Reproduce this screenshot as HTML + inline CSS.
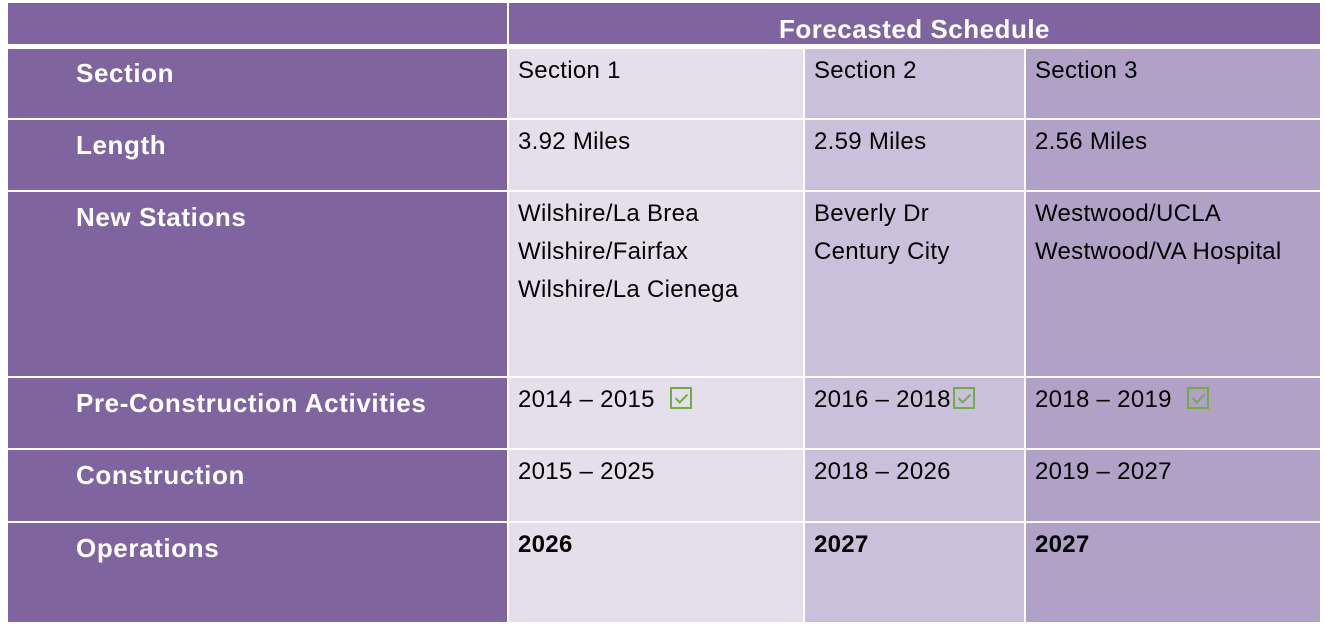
<!DOCTYPE html>
<html><head><meta charset="utf-8"><style>
body{margin:0;width:1325px;height:630px;background:#fff;position:relative;overflow:hidden;font-family:"Liberation Sans",sans-serif}
.c{position:absolute;box-sizing:border-box}
.p{background:#7f64a0}
.a{background:#e5dfec}.b{background:#cbc0dc}.d{background:#b2a1c7}
.l{color:#fff;font-weight:bold;font-size:26px;letter-spacing:0.6px;padding-left:68px;padding-top:10px}
.t{color:#000;font-size:24px;letter-spacing:0.3px;padding-left:9px;line-height:38px;padding-top:3px}
.bo{font-weight:bold}
.ck{display:inline-block;width:22px;height:22px;border:2px solid #70ad47;box-sizing:border-box;vertical-align:-2px;position:relative;margin-left:8px}
.ck:after{content:"";position:absolute;left:6px;top:2px;width:5px;height:10px;border-right:2px solid #70ad47;border-bottom:2px solid #70ad47;transform:rotate(45deg)}
</style></head><body>
<div class="c p" style="left:8px;top:3px;width:499px;height:41px"></div>
<div class="c p" style="left:509px;top:3px;width:811px;height:41px;color:#fff;font-weight:bold;font-size:26px;letter-spacing:0.5px;text-align:center;line-height:52px">Forecasted Schedule</div>

<div class="c p l" style="left:8px;top:49px;width:499px;height:69px;padding-top:9px">Section</div>
<div class="c a t" style="left:509px;top:49px;width:294px;height:69px">Section 1</div>
<div class="c b t" style="left:805px;top:49px;width:219px;height:69px">Section 2</div>
<div class="c d t" style="left:1026px;top:49px;width:294px;height:69px">Section 3</div>

<div class="c p l" style="left:8px;top:120px;width:499px;height:70px">Length</div>
<div class="c a t" style="left:509px;top:120px;width:294px;height:70px">3.92 Miles</div>
<div class="c b t" style="left:805px;top:120px;width:219px;height:70px">2.59 Miles</div>
<div class="c d t" style="left:1026px;top:120px;width:294px;height:70px">2.56 Miles</div>

<div class="c p l" style="left:8px;top:192px;width:499px;height:184px">New Stations</div>
<div class="c a t" style="left:509px;top:192px;width:294px;height:184px">Wilshire/La Brea<br>Wilshire/Fairfax<br>Wilshire/La Cienega</div>
<div class="c b t" style="left:805px;top:192px;width:219px;height:184px">Beverly Dr<br>Century City</div>
<div class="c d t" style="left:1026px;top:192px;width:294px;height:184px">Westwood/UCLA<br>Westwood/VA Hospital</div>

<div class="c p l" style="left:8px;top:378px;width:499px;height:70px">Pre-Construction Activities</div>
<div class="c a t" style="left:509px;top:378px;width:294px;height:70px">2014 – 2015 <span class="ck" style="margin-left:8px"></span></div>
<div class="c b t" style="left:805px;top:378px;width:219px;height:70px">2016 – 2018<span class="ck" style="margin-left:2px"></span></div>
<div class="c d t" style="left:1026px;top:378px;width:294px;height:70px">2018 – 2019 <span class="ck" style="margin-left:8px"></span></div>

<div class="c p l" style="left:8px;top:450px;width:499px;height:71px">Construction</div>
<div class="c a t" style="left:509px;top:450px;width:294px;height:71px">2015 – 2025</div>
<div class="c b t" style="left:805px;top:450px;width:219px;height:71px">2018 – 2026</div>
<div class="c d t" style="left:1026px;top:450px;width:294px;height:71px">2019 – 2027</div>

<div class="c p l" style="left:8px;top:523px;width:499px;height:99px">Operations</div>
<div class="c a t bo" style="left:509px;top:523px;width:294px;height:99px">2026</div>
<div class="c b t bo" style="left:805px;top:523px;width:219px;height:99px">2027</div>
<div class="c d t bo" style="left:1026px;top:523px;width:294px;height:99px">2027</div>
</body></html>
